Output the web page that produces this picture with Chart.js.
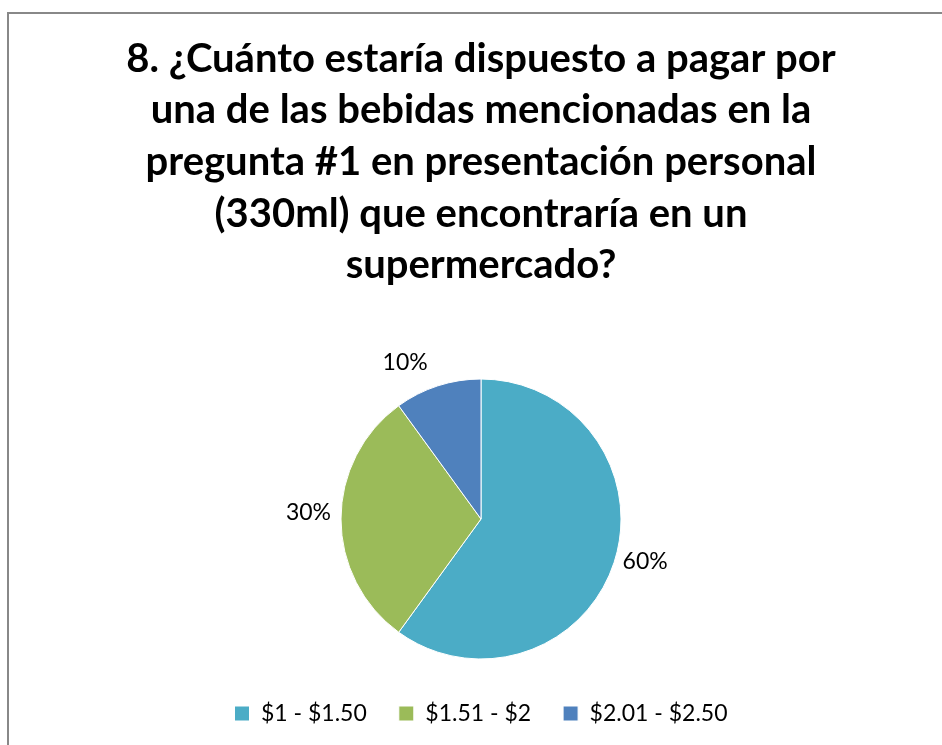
<!DOCTYPE html>
<html>
<head>
<meta charset="utf-8">
<script src="https://cdn.jsdelivr.net/npm/chart.js@4.4.1/dist/chart.umd.min.js"></script>
<style>
  html, body { margin: 0; padding: 0; background: #fff; }
  #frame { position: absolute; left: 7px; top: 12px; width: 960px; height: 760px;
           border-left: 2px solid #888; border-top: 2px solid #888; box-sizing: border-box; }
  #c { position: absolute; left: 0; top: 0; }
</style>
</head>
<body>
<div id="frame"></div>
<canvas id="c" width="942" height="745"></canvas>
<script>
const titleLines = [
  '8. ¿Cuánto estaría dispuesto a pagar por',
  'una de las bebidas mencionadas en la',
  'pregunta #1 en presentación personal',
  '(330ml) que encontraría en un',
  'supermercado?'
];
const categories = ['$1 - $1.50', '$1.51 - $2', '$2.01 - $2.50'];
const percentValues = [60, 30, 10];
const sliceColors = ['#4BACC6', '#9BBB59', '#4F81BD'];

const FONT = 'Lato, "Open Sans", sans-serif';

const outsideLabels = {
  id: 'outsideLabels',
  afterDatasetsDraw(chart) {
    const ctx = chart.ctx;
    const meta = chart.getDatasetMeta(0);
    ctx.save();
    ctx.font = '23px ' + FONT;
    ctx.fillStyle = '#000';
    ctx.textAlign = 'center';
    ctx.textBaseline = 'middle';
    meta.data.forEach((arc, i) => {
      const p = arc.getProps(['x', 'y', 'startAngle', 'endAngle', 'outerRadius'], true);
      const mid = (p.startAngle + p.endAngle) / 2;
      const dx = Math.cos(mid), dy = Math.sin(mid);
      const text = percentValues[i] + '%';
      const w = ctx.measureText(text).width, h = 16;
      const r = p.outerRadius + 10;
      const cx = p.x + dx * r + dx * w / 2 + (dy < -0.5 ? -w / 2 : 0);
      const cy = p.y + dy * r + dy * h / 2 - 6;
      ctx.fillText(text, cx, cy);
    });
    ctx.restore();
  }
};

new Chart(document.getElementById('c'), {
  type: 'pie',
  data: {
    labels: categories,
    datasets: [{
      data: percentValues,
      backgroundColor: sliceColors,
      borderColor: '#ffffff',
      borderWidth: 1,
      radius: 140
    }]
  },
  options: {
    responsive: false,
    animation: false,
    layout: { padding: { left: 20, top: 0, right: 0, bottom: 10 } },
    plugins: {
      title: {
        display: true,
        text: titleLines,
        color: '#000',
        font: { family: FONT, size: 40, weight: 'bold', lineHeight: 1.29 },
        padding: { top: 33, bottom: 77 }
      },
      legend: {
        display: true,
        position: 'bottom',
        labels: {
          color: '#000',
          font: { family: FONT, size: 23 },
          boxWidth: 15,
          boxHeight: 15,
          padding: 32
        }
      },
      tooltip: { enabled: false }
    }
  },
  plugins: [outsideLabels]
});
</script>
</body>
</html>
